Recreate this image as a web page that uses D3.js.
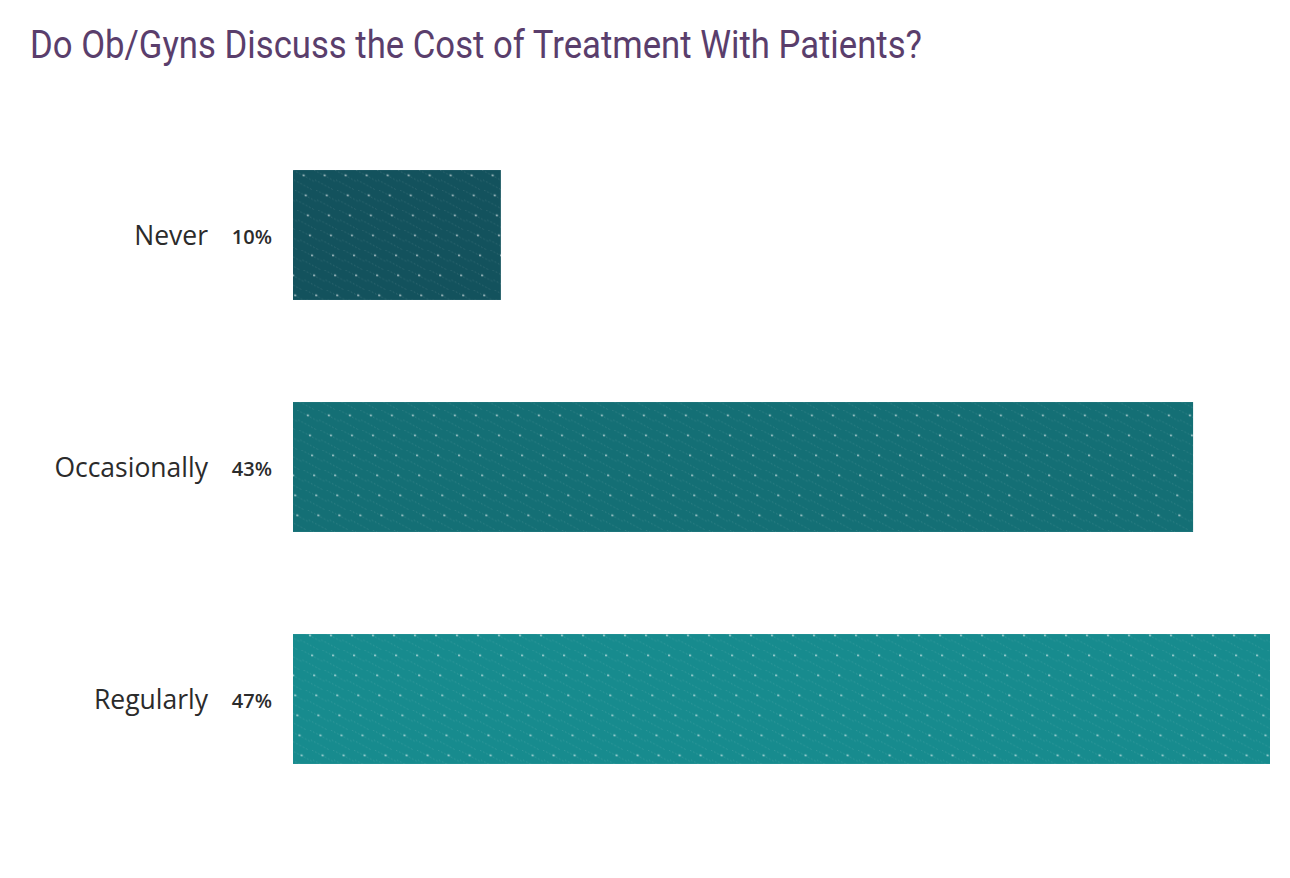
<!DOCTYPE html>
<html>
<head>
<meta charset="utf-8">
<script src="https://cdn.jsdelivr.net/npm/d3@7"></script>
<style>
  html, body { margin: 0; padding: 0; background: #ffffff; }
  svg { display: block; }
</style>
</head>
<body>
<svg id="chart" width="1290" height="878"></svg>
<script>
const title = "Do Ob/Gyns Discuss the Cost of Treatment With Patients?";
const categories = ["Never", "Occasionally", "Regularly"];
const values = [10, 43.3, 47];
const valueLabels = ["10%", "43%", "47%"];
const barColors = ["#13525d", "#146f75", "#178b8e"];

const svg = d3.select("#chart");

const x = d3.scaleLinear().domain([0, 47]).range([293, 1270]);
const y = d3.scaleBand().domain(categories).range([119, 815]).paddingInner(0.44).paddingOuter(0.22);

// patterns
const defs = svg.append("defs");
categories.forEach((c, i) => {
  const p = defs.append("pattern")
    .attr("id", "pat" + i)
    .attr("patternUnits", "userSpaceOnUse")
    .attr("width", 21).attr("height", 20)
    .attr("patternTransform", "translate(293,170) skewX(6)");
  p.append("rect").attr("width", 21).attr("height", 20).attr("fill", barColors[i]);
  [0, 10].forEach(c0 => {
    p.append("line")
      .attr("x1", 0).attr("y1", c0).attr("x2", 21).attr("y2", c0 + 12)
      .attr("stroke", "#ffffff").attr("stroke-opacity", 0.16)
      .attr("stroke-width", 0.8).attr("stroke-dasharray", "1.5,2");
  });
  p.append("rect").attr("x", 9).attr("y", 4.5).attr("width", 2.2).attr("height", 1.6)
    .attr("fill", "#ffffff").attr("fill-opacity", 0.6);
});

// title
svg.append("text")
  .attr("x", 30).attr("y", 58)
  .attr("font-family", "Roboto, 'Liberation Sans Narrow', sans-serif")
  .attr("font-size", 39)
  .attr("fill", "#5a3e6c")
  .attr("textLength", 892)
  .attr("lengthAdjust", "spacingAndGlyphs")
  .text(title);

// bars
svg.selectAll("rect.bar").data(categories).enter().append("rect")
  .attr("class", "bar")
  .attr("x", x(0))
  .attr("y", d => y(d))
  .attr("width", (d, i) => x(values[i]) - x(0))
  .attr("height", y.bandwidth())
  .attr("fill", (d, i) => "url(#pat" + i + ")");

// category labels
svg.selectAll("text.cat").data(categories).enter().append("text")
  .attr("class", "cat")
  .attr("x", 208)
  .attr("y", d => y(d) + y.bandwidth() / 2 + 9.5)
  .attr("text-anchor", "end")
  .attr("font-family", "'Open Sans', Lato, sans-serif")
  .attr("font-size", 26.5)
  .attr("fill", "#2b2b2b")
  .text(d => d);

// value labels
svg.selectAll("text.val").data(categories).enter().append("text")
  .attr("class", "val")
  .attr("x", 272)
  .attr("y", d => y(d) + y.bandwidth() / 2 + 9)
  .attr("text-anchor", "end")
  .attr("font-family", "'Open Sans', Lato, sans-serif")
  .attr("font-weight", 600)
  .attr("font-size", 20)
  .attr("fill", "#2b2b2b")
  .text((d, i) => valueLabels[i]);
</script>
</body>
</html>
